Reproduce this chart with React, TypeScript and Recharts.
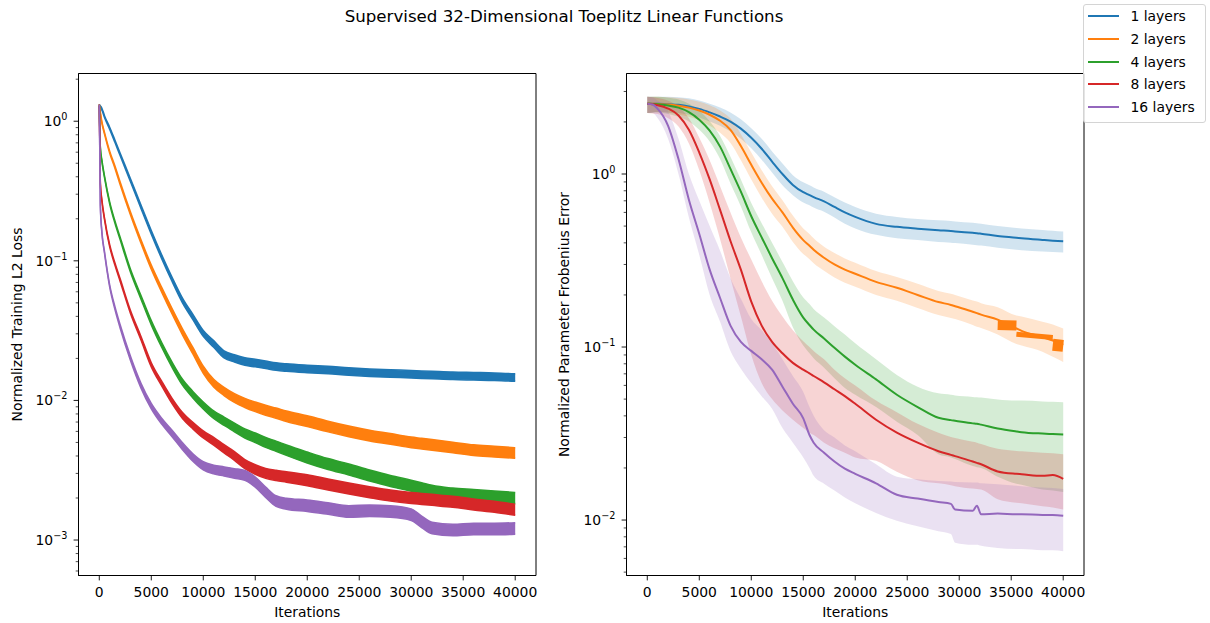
import React from 'react';
import { ComposedChart, Area, Line, XAxis, YAxis, Legend, ReferenceArea } from 'recharts';

const FONT = '"DejaVu Sans", sans-serif';
const TITLE = 'Supervised 32-Dimensional Toeplitz Linear Functions';
const SERIES_NAMES = ['1 layers', '2 layers', '4 layers', '8 layers', '16 layers'];
const COLORS = ['#1f77b4', '#ff7f0e', '#2ca02c', '#d62728', '#9467bd'];

const X_TICKS = [0, 5000, 10000, 15000, 20000, 25000, 30000, 35000, 40000];
const X_DOMAIN: [number, number] = [-2000, 42000];

const LOSS_Y_DOMAIN: [number, number] = [0.000557, 2.197];
const LOSS_Y_TICKS = [
  0.0006, 0.0007, 0.0008, 0.0009, 0.001, 0.002, 0.003, 0.004, 0.005, 0.006, 0.007, 0.008, 0.009,
  0.01, 0.02, 0.03, 0.04, 0.05, 0.06, 0.07, 0.08, 0.09, 0.1, 0.2, 0.3, 0.4, 0.5, 0.6, 0.7, 0.8, 0.9, 1, 2,
];
const ERR_Y_DOMAIN: [number, number] = [0.00478, 3.81];
const ERR_Y_TICKS = [
  0.005, 0.006, 0.007, 0.008, 0.009, 0.01, 0.02, 0.03, 0.04, 0.05, 0.06, 0.07, 0.08, 0.09,
  0.1, 0.2, 0.3, 0.4, 0.5, 0.6, 0.7, 0.8, 0.9, 1, 2, 3,
];

// ---------- Left panel: normalized training L2 loss ----------
const LOSS_ITERS = [0, 100, 250, 500, 1000, 1500, 2000, 3000, 4000, 5000, 6000, 7000, 8000, 9000, 10000, 11000, 12000, 13000, 14000, 15000, 16000, 17000, 18000, 20000, 22000, 24000, 26000, 28000, 30000, 31000, 32000, 34000, 36000, 38000, 40000];
const LOSS_1 = [1.3, 1.27, 1.22, 1.08, 0.89, 0.72, 0.58, 0.378, 0.245, 0.16, 0.107, 0.0736, 0.052, 0.0396, 0.0302, 0.0254, 0.0214, 0.02, 0.019, 0.0185, 0.018, 0.0175, 0.0172, 0.0168, 0.0165, 0.0161, 0.0158, 0.0156, 0.0154, 0.0153, 0.0152, 0.015, 0.0149, 0.0148, 0.0146];
const LOSS_2 = [1.3, 1.15, 0.98, 0.82, 0.6, 0.47, 0.36, 0.218, 0.138, 0.09, 0.062, 0.0435, 0.031, 0.0227, 0.0166, 0.0133, 0.0116, 0.0104, 0.0096, 0.009, 0.0085, 0.0081, 0.0077, 0.0071, 0.0065, 0.006, 0.0056, 0.0053, 0.005, 0.0049, 0.0048, 0.0046, 0.0044, 0.0043, 0.0042];
const LOSS_4 = [1.3, 0.65, 0.52, 0.4, 0.26, 0.19, 0.145, 0.085, 0.055, 0.036, 0.025, 0.018, 0.0135, 0.011, 0.0092, 0.0079, 0.0071, 0.0064, 0.0058, 0.0054, 0.005, 0.0047, 0.0044, 0.0039, 0.0035, 0.0032, 0.0029, 0.00265, 0.00245, 0.00235, 0.00225, 0.00215, 0.0021, 0.00205, 0.002];
const LOSS_8 = [1.3, 0.36, 0.27, 0.2, 0.128, 0.095, 0.073, 0.043, 0.028, 0.018, 0.0132, 0.0099, 0.0078, 0.0066, 0.0057, 0.0051, 0.0045, 0.004, 0.0035, 0.0032, 0.003, 0.0029, 0.00283, 0.00268, 0.0025, 0.00234, 0.0022, 0.00208, 0.002, 0.00197, 0.00194, 0.00188, 0.0018, 0.00173, 0.00165];
const LOSS_16 = [1.3, 0.25, 0.16, 0.115, 0.066, 0.046, 0.034, 0.02, 0.0128, 0.0091, 0.0071, 0.0058, 0.0047, 0.0039, 0.0034, 0.0032, 0.0031, 0.003, 0.0029, 0.0026, 0.0022, 0.0019, 0.00182, 0.00176, 0.00168, 0.0016, 0.00162, 0.0016, 0.00152, 0.00135, 0.00122, 0.00118, 0.0012, 0.0012, 0.00121];
// multiplicative half-width of the noisy trace (read from the drawn thickness)
const LOSS_NOISE_1 = [1.015, 1.015, 1.015, 1.015, 1.018, 1.02, 1.022, 1.025, 1.028, 1.03, 1.033, 1.036, 1.04, 1.045, 1.05, 1.055, 1.06, 1.062, 1.064, 1.064, 1.064, 1.064, 1.064, 1.064, 1.064, 1.064, 1.064, 1.064, 1.064, 1.064, 1.064, 1.064, 1.064, 1.064, 1.064];
const LOSS_NOISE_2 = [1.015, 1.015, 1.015, 1.015, 1.018, 1.02, 1.022, 1.025, 1.03, 1.035, 1.04, 1.045, 1.05, 1.055, 1.06, 1.065, 1.07, 1.075, 1.078, 1.082, 1.085, 1.088, 1.09, 1.092, 1.092, 1.092, 1.092, 1.092, 1.092, 1.092, 1.092, 1.092, 1.092, 1.092, 1.092];
const LOSS_NOISE_4 = [1.015, 1.015, 1.015, 1.015, 1.018, 1.02, 1.022, 1.025, 1.03, 1.035, 1.04, 1.045, 1.05, 1.055, 1.06, 1.065, 1.07, 1.075, 1.078, 1.082, 1.085, 1.088, 1.09, 1.095, 1.095, 1.095, 1.095, 1.095, 1.095, 1.095, 1.095, 1.095, 1.095, 1.095, 1.095];
const LOSS_NOISE_8 = [1.015, 1.015, 1.015, 1.015, 1.018, 1.02, 1.022, 1.025, 1.03, 1.035, 1.04, 1.045, 1.05, 1.055, 1.06, 1.065, 1.07, 1.075, 1.078, 1.082, 1.085, 1.088, 1.09, 1.095, 1.095, 1.095, 1.095, 1.095, 1.095, 1.095, 1.095, 1.095, 1.095, 1.095, 1.095];
const LOSS_NOISE_16 = [1.015, 1.015, 1.015, 1.015, 1.02, 1.025, 1.03, 1.035, 1.04, 1.045, 1.05, 1.055, 1.06, 1.065, 1.07, 1.075, 1.078, 1.082, 1.085, 1.088, 1.09, 1.092, 1.095, 1.1, 1.1, 1.1, 1.1, 1.1, 1.1, 1.1, 1.1, 1.1, 1.1, 1.1, 1.1];

// ---------- Right panel: normalized parameter Frobenius error ----------
const ERR_ITERS = [0, 500, 1000, 2000, 3000, 4000, 5000, 6000, 7000, 8000, 9000, 10000, 11000, 12000, 13000, 14000, 15000, 15600, 16000, 17000, 18000, 19000, 20000, 22000, 24000, 26000, 28000, 29200, 29600, 31300, 31700, 32100, 33700, 35500, 36000, 38000, 39000, 40000];
const ERR_1 = [2.55, 2.55, 2.55, 2.53, 2.51, 2.46, 2.38, 2.27, 2.15, 2.01, 1.83, 1.62, 1.4, 1.18, 1.0, 0.865, 0.785, 0.755, 0.735, 0.695, 0.645, 0.6, 0.565, 0.515, 0.495, 0.483, 0.473, 0.468, 0.466, 0.457, 0.455, 0.452, 0.438, 0.428, 0.425, 0.416, 0.412, 0.409];
const ERR_1_HI = [2.8, 2.8, 2.8, 2.8, 2.78, 2.74, 2.66, 2.55, 2.42, 2.27, 2.07, 1.84, 1.6, 1.35, 1.15, 0.985, 0.895, 0.86, 0.835, 0.79, 0.735, 0.685, 0.645, 0.59, 0.565, 0.55, 0.54, 0.535, 0.532, 0.522, 0.519, 0.516, 0.5, 0.488, 0.485, 0.475, 0.47, 0.465];
const ERR_1_LO = [2.25, 2.27, 2.28, 2.27, 2.25, 2.2, 2.12, 2.01, 1.9, 1.76, 1.6, 1.41, 1.21, 1.02, 0.86, 0.755, 0.685, 0.66, 0.64, 0.605, 0.56, 0.515, 0.485, 0.445, 0.425, 0.415, 0.405, 0.401, 0.399, 0.39, 0.388, 0.386, 0.375, 0.365, 0.363, 0.356, 0.354, 0.352];
const ERR_2 = [2.55, 2.55, 2.54, 2.52, 2.48, 2.42, 2.33, 2.2, 2.03, 1.8, 1.45, 1.13, 0.89, 0.72, 0.6, 0.49, 0.415, 0.385, 0.365, 0.328, 0.3, 0.28, 0.265, 0.238, 0.22, 0.2, 0.182, 0.175, 0.172, 0.16, 0.157, 0.154, 0.144, 0.128, 0.124, 0.114, 0.109, 0.103];
const ERR_2_HI = [2.8, 2.8, 2.8, 2.78, 2.75, 2.7, 2.62, 2.5, 2.33, 2.09, 1.7, 1.33, 1.05, 0.85, 0.705, 0.575, 0.485, 0.45, 0.425, 0.38, 0.35, 0.325, 0.307, 0.275, 0.254, 0.232, 0.211, 0.203, 0.2, 0.186, 0.183, 0.179, 0.17, 0.152, 0.15, 0.14, 0.135, 0.128];
const ERR_2_LO = [2.25, 2.27, 2.28, 2.26, 2.21, 2.14, 2.04, 1.9, 1.73, 1.51, 1.2, 0.93, 0.73, 0.59, 0.495, 0.405, 0.345, 0.322, 0.305, 0.276, 0.252, 0.235, 0.223, 0.2, 0.185, 0.168, 0.153, 0.147, 0.145, 0.134, 0.131, 0.129, 0.118, 0.104, 0.102, 0.094, 0.088, 0.082];
const ERR_4 = [2.55, 2.54, 2.53, 2.49, 2.42, 2.28, 2.06, 1.78, 1.44, 1.07, 0.79, 0.57, 0.43, 0.326, 0.25, 0.188, 0.148, 0.134, 0.126, 0.112, 0.099, 0.088, 0.079, 0.065, 0.053, 0.045, 0.039, 0.0378, 0.0375, 0.0362, 0.036, 0.0356, 0.0338, 0.0325, 0.0322, 0.0316, 0.0314, 0.0312];
const ERR_4_HI = [2.8, 2.8, 2.8, 2.76, 2.7, 2.55, 2.32, 2.02, 1.66, 1.26, 0.93, 0.68, 0.52, 0.4, 0.31, 0.24, 0.193, 0.177, 0.166, 0.148, 0.132, 0.118, 0.105, 0.085, 0.069, 0.059, 0.054, 0.053, 0.0525, 0.0515, 0.0512, 0.051, 0.0498, 0.049, 0.049, 0.0485, 0.0482, 0.048];
const ERR_4_LO = [2.25, 2.26, 2.27, 2.22, 2.14, 2.01, 1.8, 1.54, 1.22, 0.88, 0.65, 0.46, 0.34, 0.25, 0.185, 0.13, 0.102, 0.092, 0.086, 0.076, 0.066, 0.058, 0.053, 0.045, 0.037, 0.031, 0.024, 0.023, 0.0225, 0.0205, 0.0202, 0.02, 0.0178, 0.0162, 0.016, 0.015, 0.0148, 0.0145];
const ERR_8 = [2.55, 2.53, 2.5, 2.39, 2.18, 1.8, 1.33, 0.93, 0.62, 0.41, 0.28, 0.183, 0.133, 0.107, 0.092, 0.081, 0.074, 0.0705, 0.068, 0.0625, 0.057, 0.052, 0.047, 0.038, 0.032, 0.028, 0.025, 0.0238, 0.0234, 0.0218, 0.0214, 0.021, 0.0191, 0.0185, 0.0184, 0.018, 0.0182, 0.0173];
const ERR_8_HI = [2.8, 2.78, 2.75, 2.65, 2.45, 2.1, 1.62, 1.2, 0.85, 0.6, 0.43, 0.32, 0.24, 0.185, 0.15, 0.125, 0.108, 0.1, 0.095, 0.085, 0.074, 0.066, 0.06, 0.049, 0.042, 0.036, 0.032, 0.0302, 0.0298, 0.0283, 0.028, 0.0275, 0.0258, 0.0251, 0.025, 0.0245, 0.0243, 0.024];
const ERR_8_LO = [2.25, 2.24, 2.22, 2.1, 1.88, 1.5, 1.05, 0.68, 0.42, 0.25, 0.15, 0.09, 0.062, 0.05, 0.043, 0.038, 0.034, 0.032, 0.031, 0.028, 0.026, 0.0245, 0.023, 0.022, 0.019, 0.017, 0.0163, 0.0159, 0.0157, 0.0152, 0.0151, 0.015, 0.0132, 0.0126, 0.0125, 0.012, 0.0118, 0.0115];
const ERR_16 = [2.55, 2.52, 2.38, 1.9, 1.22, 0.71, 0.45, 0.28, 0.192, 0.133, 0.107, 0.095, 0.085, 0.074, 0.059, 0.047, 0.0387, 0.031, 0.028, 0.0245, 0.0218, 0.0198, 0.0185, 0.0163, 0.014, 0.0133, 0.0127, 0.0124, 0.0115, 0.0113, 0.0121, 0.0108, 0.0109, 0.0108, 0.0108, 0.0107, 0.0107, 0.0106];
const ERR_16_HI = [2.8, 2.78, 2.65, 2.3, 1.6, 1.0, 0.7, 0.5, 0.36, 0.25, 0.19, 0.145, 0.125, 0.105, 0.085, 0.068, 0.055, 0.045, 0.04, 0.033, 0.03, 0.027, 0.025, 0.021, 0.0178, 0.0172, 0.0168, 0.0167, 0.0166, 0.0165, 0.0165, 0.0163, 0.0161, 0.0158, 0.0157, 0.0154, 0.0153, 0.0151];
const ERR_16_LO = [2.25, 2.25, 2.1, 1.6, 1.0, 0.56, 0.34, 0.2, 0.14, 0.095, 0.075, 0.062, 0.052, 0.044, 0.034, 0.028, 0.023, 0.02, 0.018, 0.0162, 0.0148, 0.0135, 0.0125, 0.011, 0.0099, 0.0092, 0.0086, 0.0083, 0.0074, 0.0072, 0.0072, 0.0071, 0.0069, 0.0068, 0.0068, 0.0067, 0.0067, 0.0066];

// thick oscillating segments of the 2-layer curve near the end
const ORANGE_BLOCK_A_ITERS = [33700, 35500];
const ORANGE_BLOCK_A = [0.134, 0.133];
const ORANGE_BLOCK_C_ITERS = [35500, 39000];
const ORANGE_BLOCK_C = [0.1185, 0.1135];
const ORANGE_BLOCK_B_ITERS = [39000, 40000];
const ORANGE_BLOCK_B = [0.103, 0.1015];

const LOSS_SERIES = [LOSS_1, LOSS_2, LOSS_4, LOSS_8, LOSS_16];
const LOSS_NOISE = [LOSS_NOISE_1, LOSS_NOISE_2, LOSS_NOISE_4, LOSS_NOISE_8, LOSS_NOISE_16];
const ERR_MEAN = [ERR_1, ERR_2, ERR_4, ERR_8, ERR_16];
const ERR_HI = [ERR_1_HI, ERR_2_HI, ERR_4_HI, ERR_8_HI, ERR_16_HI];
const ERR_LO = [ERR_1_LO, ERR_2_LO, ERR_4_LO, ERR_8_LO, ERR_16_LO];

const lossRows = LOSS_ITERS.map((x, i) => {
  const row: any = { x };
  LOSS_SERIES.forEach((s, k) => {
    const m = s[i];
    const n = LOSS_NOISE[k][i];
    row['l' + k] = [m / n, m * n];
  });
  return row;
});

const errRows = ERR_ITERS.map((x, i) => {
  const row: any = { x };
  ERR_MEAN.forEach((s, k) => {
    row['m' + k] = s[i];
    row['r' + k] = [ERR_LO[k][i], ERR_HI[k][i]];
  });
  return row;
});
function attach(key: string, xs: number[], vals: number[]) {
  xs.forEach((x, i) => {
    const row = errRows.find((r) => r.x === x);
    if (row) row[key] = vals[i];
  });
}
attach('bA', ORANGE_BLOCK_A_ITERS, ORANGE_BLOCK_A);
attach('bC', ORANGE_BLOCK_C_ITERS, ORANGE_BLOCK_C);
attach('bB', ORANGE_BLOCK_B_ITERS, ORANGE_BLOCK_B);

function YLogTick(props: any) {
  const { x, y, payload } = props;
  const v = Number(payload.value);
  const lg = Math.log10(v);
  const e = Math.round(lg);
  const major = Math.abs(lg - e) < 1e-6;
  const len = major ? 4.9 : 2.8;
  const exp = e < 0 ? '\u2212' + Math.abs(e) : String(e);
  return (
    <g>
      <line x1={x - len} x2={x} y1={y} y2={y} stroke="#000" strokeWidth={major ? 0.9 : 0.7} />
      {major ? (
        <text x={x - 11} y={y + 5} textAnchor="end" fontFamily={FONT} fontSize={13.9} fill="#000">
          10
          <tspan fontSize={9.7} dy={-6}>
            {exp}
          </tspan>
        </text>
      ) : null}
    </g>
  );
}

function XTick(props: any) {
  const { x, y, payload } = props;
  return (
    <g>
      <line x1={x} x2={x} y1={y} y2={y + 4.9} stroke="#000" strokeWidth={0.9} />
      <text x={x} y={y + 21} textAnchor="middle" fontFamily={FONT} fontSize={13.9} fill="#000">
        {payload.value}
      </text>
    </g>
  );
}

const axisLine = { stroke: '#000', strokeWidth: 1 };
const labelStyle = { fill: '#000', fontSize: 13.9, fontFamily: FONT };

function LegendBox() {
  return (
    <div
      style={{
        position: 'relative',
        width: 123,
        height: 118.5,
        boxSizing: 'border-box',
        border: '1px solid #d4d4d4',
        borderRadius: 3,
        background: 'rgba(255,255,255,0.8)',
        fontFamily: FONT,
        fontSize: 13.9,
        color: '#000',
      }}
    >
      {SERIES_NAMES.map((name, i) => {
        const cy = 11.2 + i * 22.75;
        return (
          <React.Fragment key={name}>
            <svg style={{ position: 'absolute', left: 0, top: cy - 5 }} width={40} height={10}>
              <line x1={4} x2={35} y1={5} y2={5} stroke={COLORS[i]} strokeWidth={2} />
            </svg>
            <span style={{ position: 'absolute', left: 47, top: cy - 10, lineHeight: '20px', whiteSpace: 'nowrap' }}>{name}</span>
          </React.Fragment>
        );
      })}
    </div>
  );
}

function Frame({ yDomain }: { yDomain: [number, number] }) {
  return (
    <ReferenceArea
      x1={X_DOMAIN[0]}
      x2={X_DOMAIN[1]}
      y1={yDomain[0]}
      y2={yDomain[1]}
      ifOverflow="visible"
      fill="none"
      fillOpacity={0}
      stroke="#000"
      strokeWidth={1}
    />
  );
}

function LossChart() {
  return (
    <ComposedChart width={545} height={623} data={lossRows} margin={{ top: 73.5, right: 9, bottom: 0, left: 0 }}>
      <XAxis
        dataKey="x"
        type="number"
        domain={X_DOMAIN}
        allowDataOverflow
        ticks={X_TICKS}
        interval={0}
        tick={<XTick />}
        tickLine={false}
        tickSize={0}
        tickMargin={0}
        axisLine={axisLine}
        height={47.5}
        label={{ value: 'Iterations', position: 'insideBottom', offset: 6.3, ...labelStyle }}
      />
      <YAxis
        type="number"
        scale="log"
        domain={LOSS_Y_DOMAIN}
        allowDataOverflow
        ticks={LOSS_Y_TICKS}
        interval={0}
        tick={<YLogTick />}
        tickLine={false}
        tickSize={0}
        tickMargin={0}
        width={78.5}
        axisLine={axisLine}
        label={{ value: 'Normalized Training L2 Loss', angle: -90, position: 'insideLeft', offset: 17, style: { textAnchor: 'middle' }, ...labelStyle }}
      />
      {SERIES_NAMES.map((name, k) => (
        <Area
          key={name}
          name={name}
          dataKey={'l' + k}
          type="monotone"
          fill={COLORS[k]}
          fillOpacity={1}
          stroke={COLORS[k]}
          strokeWidth={1.5}
          dot={false}
          activeDot={false}
          isAnimationActive={false}
        />
      ))}
      {Frame({ yDomain: LOSS_Y_DOMAIN })}
    </ComposedChart>
  );
}

function ErrChart() {
  const items: React.ReactNode[] = [];
  SERIES_NAMES.forEach((name, k) => {
    items.push(
      <Area
        key={'band' + k}
        dataKey={'r' + k}
        type="monotone"
        fill={COLORS[k]}
        fillOpacity={0.2}
        stroke="none"
        dot={false}
        activeDot={false}
        legendType="none"
        isAnimationActive={false}
      />
    );
    items.push(
      <Line
        key={'line' + k}
        name={name}
        dataKey={'m' + k}
        type="monotone"
        stroke={COLORS[k]}
        strokeWidth={2}
        dot={false}
        activeDot={false}
        isAnimationActive={false}
      />
    );
    if (k === 1) {
      [['bA', 10], ['bC', 5], ['bB', 12]].forEach(([key, w]) => {
        items.push(
          <Line
            key={key as string}
            dataKey={key as string}
            type="linear"
            stroke={COLORS[1]}
            strokeWidth={w as number}
            dot={false}
            activeDot={false}
            connectNulls
            legendType="none"
            isAnimationActive={false}
          />
        );
      });
    }
  });
  return (
    <ComposedChart width={670} height={623} data={errRows} margin={{ top: 73.5, right: 126, bottom: 0, left: 0 }}>
      <XAxis
        dataKey="x"
        type="number"
        domain={X_DOMAIN}
        allowDataOverflow
        ticks={X_TICKS}
        interval={0}
        tick={<XTick />}
        tickLine={false}
        tickSize={0}
        tickMargin={0}
        axisLine={axisLine}
        height={47.5}
        label={{ value: 'Iterations', position: 'insideBottom', offset: 6.3, ...labelStyle }}
      />
      <YAxis
        type="number"
        scale="log"
        domain={ERR_Y_DOMAIN}
        allowDataOverflow
        ticks={ERR_Y_TICKS}
        interval={0}
        tick={<YLogTick />}
        tickLine={false}
        tickSize={0}
        tickMargin={0}
        width={86.5}
        axisLine={axisLine}
        label={{ value: 'Normalized Parameter Frobenius Error', angle: -90, position: 'insideLeft', offset: 24, style: { textAnchor: 'middle' }, ...labelStyle }}
      />
      {items}
      {Frame({ yDomain: ERR_Y_DOMAIN })}
      <Legend
        layout="horizontal"
        verticalAlign="middle"
        align="center"
        wrapperStyle={{ left: 542.5, top: 4, width: 123, height: 118.5 }}
        content={() => <LegendBox />}
      />
    </ComposedChart>
  );
}

export default function App() {
  return (
    <div style={{ position: 'absolute', left: 0, top: 0, width: 1210, height: 623, background: '#fff', overflow: 'hidden', fontFamily: FONT }}>
      <div
        style={{
          position: 'absolute',
          left: 0,
          top: 7,
          width: 1128,
          textAlign: 'center',
          fontSize: 16.67,
          lineHeight: '20px',
          color: '#000',
          whiteSpace: 'nowrap',
        }}
      >
        {TITLE}
      </div>
      <div style={{ position: 'absolute', left: 0, top: 0 }}>
        <LossChart />
      </div>
      <div style={{ position: 'absolute', left: 540, top: 0 }}>
        <ErrChart />
      </div>
    </div>
  );
}
